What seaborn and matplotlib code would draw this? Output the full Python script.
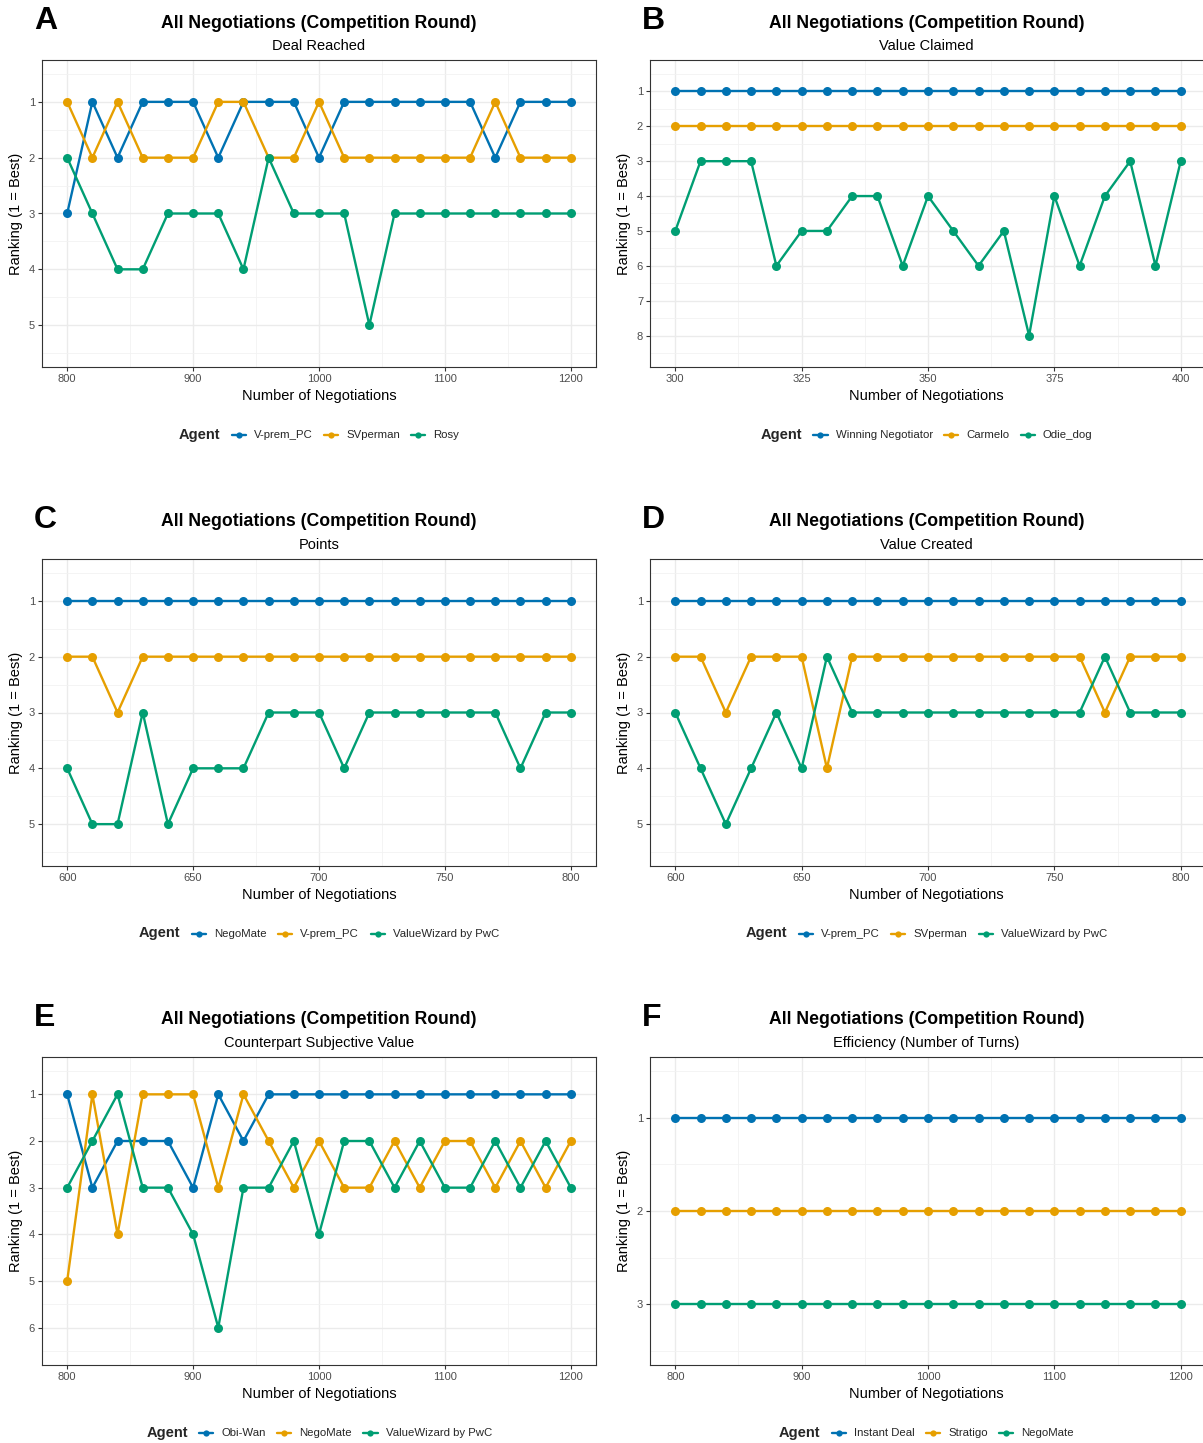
import matplotlib
matplotlib.use("Agg")
import matplotlib.pyplot as plt
import pandas as pd
import seaborn as sns
from matplotlib.lines import Line2D
from matplotlib.ticker import MultipleLocator, FixedLocator

# ---------------- data ----------------
x_A = list(range(800, 1201, 20))
A_agents = ["V-prem_PC", "SVperman", "Rosy"]
A_vprem = [3, 1, 2, 1, 1, 1, 2, 1, 1, 1, 2, 1, 1, 1, 1, 1, 1, 2, 1, 1, 1]
A_svperman = [1, 2, 1, 2, 2, 2, 1, 1, 2, 2, 1, 2, 2, 2, 2, 2, 2, 1, 2, 2, 2]
A_rosy = [2, 3, 4, 4, 3, 3, 3, 4, 2, 3, 3, 3, 5, 3, 3, 3, 3, 3, 3, 3, 3]

x_B = list(range(300, 401, 5))
B_agents = ["Winning Negotiator", "Carmelo", "Odie_dog"]
B_winning = [1] * 21
B_carmelo = [2] * 21
B_odie = [5, 3, 3, 3, 6, 5, 5, 4, 4, 6, 4, 5, 6, 5, 8, 4, 6, 4, 3, 6, 3]

x_C = list(range(600, 801, 10))
C_agents = ["NegoMate", "V-prem_PC", "ValueWizard by PwC"]
C_negomate = [1] * 21
C_vprem = [2, 2, 3, 2, 2, 2, 2, 2, 2, 2, 2, 2, 2, 2, 2, 2, 2, 2, 2, 2, 2]
C_valuewizard = [4, 5, 5, 3, 5, 4, 4, 4, 3, 3, 3, 4, 3, 3, 3, 3, 3, 3, 4, 3, 3]

x_D = list(range(600, 801, 10))
D_agents = ["V-prem_PC", "SVperman", "ValueWizard by PwC"]
D_vprem = [1] * 21
D_svperman = [2, 2, 3, 2, 2, 2, 4, 2, 2, 2, 2, 2, 2, 2, 2, 2, 2, 3, 2, 2, 2]
D_valuewizard = [3, 4, 5, 4, 3, 4, 2, 3, 3, 3, 3, 3, 3, 3, 3, 3, 3, 2, 3, 3, 3]

x_E = list(range(800, 1201, 20))
E_agents = ["Obi-Wan", "NegoMate", "ValueWizard by PwC"]
E_obiwan = [1, 3, 2, 2, 2, 3, 1, 2, 1, 1, 1, 1, 1, 1, 1, 1, 1, 1, 1, 1, 1]
E_negomate = [5, 1, 4, 1, 1, 1, 3, 1, 2, 3, 2, 3, 3, 2, 3, 2, 2, 3, 2, 3, 2]
E_valuewizard = [3, 2, 1, 3, 3, 4, 6, 3, 3, 2, 4, 2, 2, 3, 2, 3, 3, 2, 3, 2, 3]

x_F = list(range(800, 1201, 20))
F_agents = ["Instant Deal", "Stratigo", "NegoMate"]
F_instant = [1] * 21
F_stratigo = [2] * 21
F_negomate = [3] * 21

letters = ["A", "B", "C", "D", "E", "F"]
subtitles = ["Deal Reached", "Value Claimed", "Points", "Value Created",
             "Counterpart Subjective Value", "Efficiency (Number of Turns)"]
main_title = "All Negotiations (Competition Round)"

colors = ["#0072B2", "#E69F00", "#009E73"]

panels = [
    (x_A, A_agents, [A_vprem, A_svperman, A_rosy], [800, 900, 1000, 1100, 1200]),
    (x_B, B_agents, [B_winning, B_carmelo, B_odie], [300, 325, 350, 375, 400]),
    (x_C, C_agents, [C_negomate, C_vprem, C_valuewizard], [600, 650, 700, 750, 800]),
    (x_D, D_agents, [D_vprem, D_svperman, D_valuewizard], [600, 650, 700, 750, 800]),
    (x_E, E_agents, [E_obiwan, E_negomate, E_valuewizard], [800, 900, 1000, 1100, 1200]),
    (x_F, F_agents, [F_instant, F_stratigo, F_negomate], [800, 900, 1000, 1100, 1200]),
]

# ---------------- layout ----------------
W, H = 1203, 1443
sns.set_theme(style="white")
plt.rcParams["font.family"] = ["Liberation Sans", "DejaVu Sans"]

fig = plt.figure(figsize=(W / 100, H / 100), dpi=100)
fig.patch.set_facecolor("white")

col_lr = [(42, 596), (650, 1206)]
row_tb = [(60, 367), (559, 866), (1057, 1365)]


def fx(p):
    return p / W


def fy(p):
    return 1 - p / H


for i, (xs, agents, series, xticks) in enumerate(panels):
    r, c = divmod(i, 2)
    l, rr = col_lr[c]
    t, b = row_tb[r]
    ax = fig.add_axes([fx(l), fy(b), (rr - l) / W, (b - t) / H])

    rows = []
    for name, vals in zip(agents, series):
        for xv, yv in zip(xs, vals):
            rows.append({"n": xv, "rank": yv, "Agent": name})
    df = pd.DataFrame(rows)
    df["Agent"] = pd.Categorical(df["Agent"], categories=agents, ordered=True)

    sns.lineplot(data=df, x="n", y="rank", hue="Agent", hue_order=agents,
                 palette=colors, marker="o", markersize=6.5, markeredgewidth=0,
                 linewidth=1.7, ax=ax, legend=False, estimator=None, sort=True)

    ymax = max(max(s) for s in series)
    lo = 0.5 - 0.05 * ymax
    hi = ymax + 0.5 + 0.05 * ymax
    ax.set_ylim(hi, lo)
    xr = xticks[-1] - xticks[0]
    ax.set_xlim(xticks[0] - 0.05 * xr, xticks[-1] + 0.05 * xr)

    ax.xaxis.set_major_locator(FixedLocator(xticks))
    step = xticks[1] - xticks[0]
    ax.xaxis.set_minor_locator(MultipleLocator(step / 2))
    ax.yaxis.set_major_locator(FixedLocator(list(range(1, ymax + 1))))
    ax.yaxis.set_minor_locator(FixedLocator([k + 0.5 for k in range(0, ymax + 1)]))

    ax.set_axisbelow(True)
    ax.grid(which="major", color="#ebebeb", linewidth=1.0)
    ax.grid(which="minor", color="#f2f2f2", linewidth=0.6)
    ax.tick_params(which="major", length=3, width=0.8, color="#333333",
                   labelsize=8, labelcolor="#4d4d4d", pad=2,
                   bottom=True, left=True)
    ax.tick_params(which="minor", length=0)
    for sp in ax.spines.values():
        sp.set_color("#333333")
        sp.set_linewidth(0.8)
    ax.set_xlabel("")
    ax.set_ylabel("")
    ax.set_facecolor("white")

    cx = (l + rr) / 2 if c == 0 else (l + 1203) / 2
    # titles
    fig.text(fx(cx), fy(t - 37), main_title, ha="center", va="center",
             fontsize=12.7, fontweight="bold", color="black")
    fig.text(fx(cx), fy(t - 14), subtitles[i], ha="center", va="center",
             fontsize=10.5, color="black")
    # panel letter
    fig.text(fx(l - 8), fy(t - 39), letters[i], ha="left", va="center",
             fontsize=23, fontweight="bold", color="black")
    # axis labels
    fig.text(fx(cx), fy(b + 29), "Number of Negotiations", ha="center",
             va="center", fontsize=10.5, color="black")
    fig.text(fx(l - 26), fy((t + b) / 2), "Ranking (1 = Best)", ha="center",
             va="center", rotation=90, fontsize=10.5, color="black")

    # legend
    handles = [Line2D([], [], color=col, marker="o", markersize=4.5,
                      markeredgewidth=0, linewidth=1.7) for col in colors]
    leg_y = -(67.5) / (b - t)
    width_px = rr - l
    cx_ax = (cx - l) / width_px
    leg = ax.legend(handles=handles, labels=agents, title="Agent", ncol=3,
                    loc="center", bbox_to_anchor=(cx_ax, leg_y), frameon=False,
                    fontsize=8.2, title_fontproperties={"weight": "bold", "size": 10.5},
                    handlelength=1.25, handletextpad=0.7, columnspacing=1.0,
                    borderaxespad=0)
    vp = leg._legend_box
    kids = vp.get_children()
    title_box, hp = kids[0], kids[1]
    vp._children = [hp]
    hp._children = [title_box] + hp.get_children()

fig.savefig("out.png", dpi=100, facecolor="white")
